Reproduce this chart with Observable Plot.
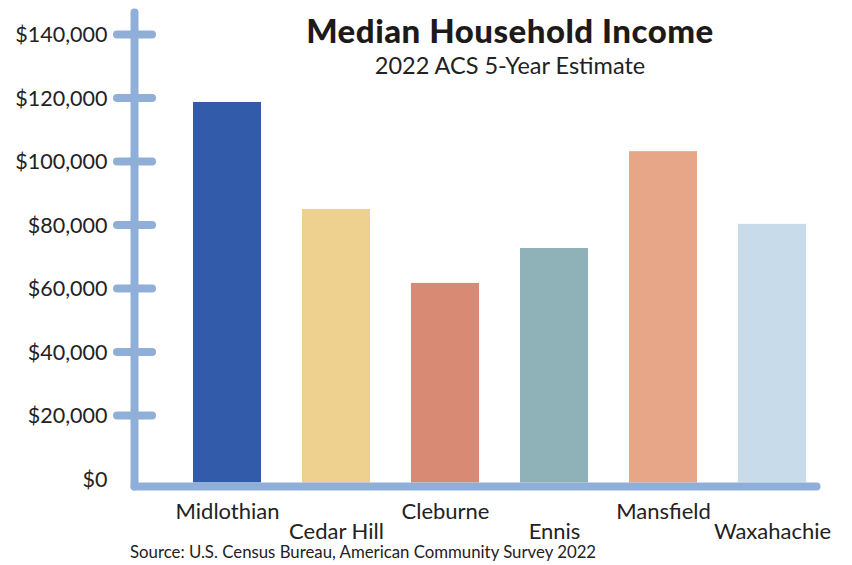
<!DOCTYPE html>
<html>
<head>
<meta charset="utf-8">
<script src="https://cdn.jsdelivr.net/npm/d3@7"></script>
<script src="https://cdn.jsdelivr.net/npm/@observablehq/plot@0.6"></script>
<style>
  html, body { margin: 0; padding: 0; background: #fff; }
  #wrap { position: relative; width: 852px; height: 565px; font-family: Lato, "Open Sans", sans-serif; color: #222; }
  #title { position: absolute; left: 260px; width: 500px; top: 14px; line-height: 1; text-align: center; font-size: 33px; font-weight: 900; color: #1e1a1a; letter-spacing: 0.5px; }
  #subtitle { position: absolute; left: 260px; width: 500px; top: 54px; line-height: 1; text-align: center; font-size: 23.5px; color: #222; }
  #source { position: absolute; left: 130px; top: 544px; line-height: 1; font-size: 16.8px; color: #222; white-space: nowrap; }
  svg { position: absolute; left: 0; top: 0; }
</style>
</head>
<body>
<div id="wrap">
  <div id="chart"></div>
  <div id="title">Median Household Income</div>
  <div id="subtitle">2022 ACS 5-Year Estimate</div>
  <div id="source">Source: U.S. Census Bureau, American Community Survey 2022</div>
</div>
<script>
const cities = ["Midlothian", "Cedar Hill", "Cleburne", "Ennis", "Mansfield", "Waxahachie"];
const incomes = [118600, 84900, 61600, 72600, 103100, 80200];
const barColors = ["#325ca9", "#eed08f", "#d88a74", "#8fb2b9", "#e8a688", "#c8dbeb"];
const yTicks = [0, 20000, 40000, 60000, 80000, 100000, 120000, 140000];

const axisColor = "#8fafd9";
const data = cities.map((c, i) => ({city: c, income: incomes[i], color: barColors[i], row: i % 2}));

const chart = Plot.plot({
  width: 852,
  height: 565,
  marginLeft: 134,
  marginRight: 36,
  marginTop: 12,
  marginBottom: 79,
  style: {fontFamily: "Lato, 'Open Sans', sans-serif", color: "#222", background: "transparent"},
  x: {domain: cities, range: [170.5, 829.5], paddingInner: 0.373, paddingOuter: 0.1865, axis: null, label: null},
  y: {domain: [0, 140000], range: [478.5, 34], axis: null, label: null},
  marks: [
    Plot.barY(data, {x: "city", y: "income", fill: "color", insetBottom: -4}),
    Plot.axisY({ticks: yTicks.filter(d => d > 0), tickSize: 35, dx: 18, text: null, label: null, stroke: axisColor, strokeWidth: 8, strokeLinecap: "round"}),
    Plot.axisY({ticks: yTicks, tickSize: 0, tickPadding: 27, dy: 1, fontSize: 21.5, fill: "#222", label: null,
      tickFormat: d => "$" + d3.format(",")(d)}),
    Plot.frame({anchor: "left", stroke: axisColor, strokeWidth: 8, strokeLinecap: "round"}),
    Plot.frame({anchor: "bottom", stroke: axisColor, strokeWidth: 8, strokeLinecap: "round"}),
    Plot.text(data.filter(d => d.row === 0), {x: "city", text: "city", frameAnchor: "bottom", lineAnchor: "middle", dy: 25, fontSize: 22, fill: "#222"}),
    Plot.text(data.filter(d => d.row === 1), {x: "city", text: "city", frameAnchor: "bottom", lineAnchor: "middle", dy: 45, fontSize: 22, fill: "#222"})
  ]
});
document.getElementById("chart").appendChild(chart);
</script>
</body>
</html>
